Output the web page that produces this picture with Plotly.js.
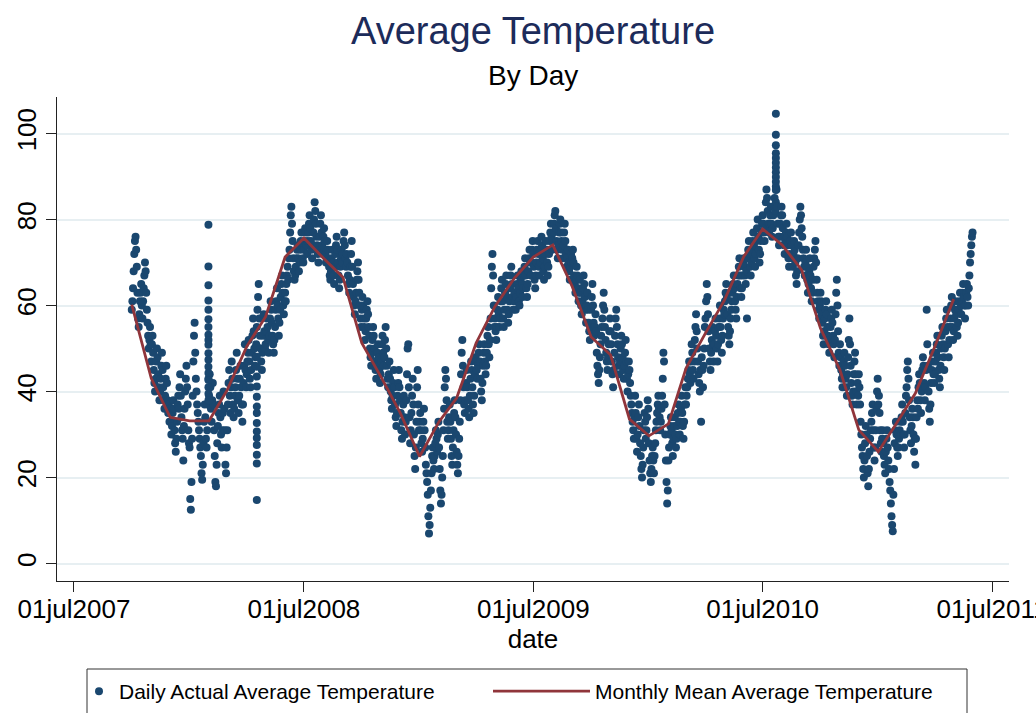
<!DOCTYPE html>
<html><head><meta charset="utf-8">
<script src="https://cdn.plot.ly/plotly-3.0.1.min.js"></script>
<style>html,body{margin:0;padding:0;background:#fff}#chart{width:1036px;height:713px}</style>
</head><body><div id="chart"></div>
<script>
// Daily actual average temperature, one value per day starting 2007-10-01
const dailyStartDate = '2007-10-01';
const temps2007 = [
  59,61,64,68,72,75,76,73,69,63,57,55,58,61,63,65,60,57,61,64,67,70,68,63,59,56,53,50,52,55,51,
  47,51,53,49,45,42,40,43,47,50,48,44,41,38,40,43,46,49,45,41,38,36,39,43,46,42,38,35,37,33,
  36,33,30,32,35,38,36,31,28,26,29,33,37,39,36,41,44,39,34,31,29,24,32,36,40,43,46,41,37,31,28
];
const temps2008 = [
  27,15,12.5,19,29,39,47,53,56,49,43,40,37,35,33,31,29,27,25,21,19.5,23,28,33,37,34,29,27,31,37,43,
  39,44,41,36,33,38,42,37,31,25,19,18,23,28,32,35,37,39,34,30,27,31,35,40,36,31,23,21,27,
  31,37,42,45,39,35,41,47,43,37,34,36,39,41,45,49,43,38,35,39,43,46,41,37,33,37,42,46,51,45,41,
  44,47,49,52,47,43,41,45,49,53,57,54,50,46,48,51,55,59,62,65,57,53,50,47,45,49,53,58,54,50,
  51,54,57,55,52,49,53,57,61,59,56,53,51,49,52,55,59,61,64,60,57,53,56,59,62,65,67,63,60,58,61,
  63,61,65,67,69,66,71,73,77,81,83,79,75,71,68,66,67,69,71,73,74,71,68,70,73,75,77,74,71,70,
  73,75,78,77,74,72,75,77,79,81,78,75,73,71,74,77,80,84,82,79,76,74,72,70,73,76,79,81,77,74,72,
  76,78,75,72,70,73,75,73,71,69,67,66,68,71,73,70,67,65,69,72,74,76,73,70,67,64,66,69,71,73,70,
  72,75,77,74,71,69,72,70,67,65,63,66,69,72,75,69,65,62,60,58,61,63,66,68,70,66,63,60,57,55,
  59,62,60,57,55,52,54,57,59,61,58,55,53,50,48,46,49,52,55,53,50,47,45,43,46,49,51,48,45,42,44,
  47,51,53,49,46,48,52,55,50,46,43,41,44,47,43,40,38,36,39,42,45,41,37,34,32,35,39,42,45,41,
  38,35,31,29,33,37,39,34,30,33,38,44,50,51,41,34,28,31,35,39,43,37,30,25,22,27,33,41,45,37,31
];
const temps2009 = [
  33,35,31,28,26,29,33,36,31,27,23,21,19,16,11,7,9,13,17,21,25,27,24,22,25,28,31,29,26,30,33,
  27,22,17,14,16,20,25,31,36,41,45,43,38,33,29,31,34,37,33,29,25,23,27,31,35,38,34,30,
  26,23,21,25,29,33,38,44,49,52,46,41,37,35,38,42,45,41,38,36,34,39,43,47,45,41,37,35,39,44,48,
  47,45,43,46,49,51,47,43,40,38,42,46,49,51,47,44,46,49,53,55,51,48,52,57,64,69,72,67,60,55,
  57,54,52,55,59,62,58,55,57,61,64,66,61,57,55,59,63,65,67,62,59,56,58,61,64,67,69,65,62,59,61,
  63,61,59,62,65,67,64,61,60,63,66,68,65,62,64,67,69,71,67,64,62,65,68,71,73,70,67,70,73,75,
  72,69,66,64,67,70,73,75,72,69,67,70,73,76,74,71,68,66,69,72,75,73,70,67,69,72,75,77,79,76,73,
  75,77,79,81,82,78,75,73,71,74,77,79,80,77,75,73,71,74,77,79,75,72,69,71,73,70,68,66,69,72,70,
  71,73,70,67,65,63,66,69,67,64,61,63,66,63,60,58,61,64,67,65,62,59,56,60,63,59,56,54,52,55,
  59,62,65,60,56,53,55,58,54,49,46,44,42,45,48,51,53,55,57,60,63,59,55,52,49,47,45,48,51,54,57,
  54,51,47,44,41,45,49,53,57,59,55,51,48,46,44,47,50,53,51,48,45,43,46,49,52,47,43,40,44,47,
  45,42,39,37,35,33,31,29,34,39,35,29,26,30,34,37,32,28,25,22,20,23,27,31,35,33,29,31,34,38,36
];
const temps2010 = [
  28,24,21,19,22,25,27,24,21,25,28,31,33,35,37,39,36,34,31,33,36,39,43,49,47,37,30,24,19,14,17,
  24,27,30,32,34,31,28,25,29,32,34,30,27,29,32,35,37,33,30,33,36,39,35,32,29,33,37,41,
  37,39,41,43,45,47,44,42,47,51,49,45,43,47,52,55,58,54,50,47,44,42,40,45,33,48,45,41,46,50,55,
  57,61,65,62,58,54,50,47,45,49,52,55,51,47,51,54,57,53,50,47,51,55,57,60,55,52,49,53,57,59,
  58,61,63,65,62,58,55,53,51,54,57,59,61,63,65,67,64,61,59,57,62,65,67,69,71,67,64,62,64,67,70,
  71,69,67,65,68,57,71,73,75,72,69,67,70,73,75,77,74,71,69,72,75,78,80,76,73,70,72,75,77,79,
  81,79,77,75,78,84,87,85,82,79,77,79,81,83,79,76,78,81,83,85,82,84,87,83,79,76,74,76,79,81,83,
  81,78,76,74,72,75,77,79,76,74,71,69,72,75,77,74,71,69,72,75,73,70,67,65,68,71,74,77,80,83,81,
  78,76,73,71,69,67,70,73,69,66,63,65,68,71,67,64,61,63,66,69,71,73,75,70,66,63,61,59,57,60,
  63,61,58,56,53,51,54,57,59,61,58,55,53,51,49,52,55,57,59,56,53,51,48,52,58,63,66,60,54,49,46,
  51,48,45,43,41,44,47,49,46,43,41,39,44,48,52,57,51,46,42,39,37,40,44,47,49,44,40,37,42,39,
  44,41,37,33,30,27,25,22,20,24,28,32,30,25,21,18,22,26,29,31,33,35,37,31,27,24,27,31,36,40,43
];
const temps2011 = [
  37,39,35,31,28,26,29,31,28,25,23,21,26,29,31,27,24,22,19,17,14,11,9,7.5,16,22,28,31,33,30,27,
  25,27,29,31,33,30,34,37,33,30,27,30,35,39,41,45,47,43,38,34,31,28,32,36,34,30,26,29,
  23,29,34,38,36,41,44,42,38,35,40,45,48,46,42,38,41,45,59,51,46,40,36,33,37,42,45,47,49,44,42,
  44,47,49,51,53,48,45,43,41,46,50,53,55,51,48,45,50,54,57,59,55,51,48,52,55,57,60,62,55,52,
  54,57,59,61,58,55,53,56,59,61,63,60,58,61,63,65,62,60,57,60,63,65,62,60,64,67,70,72,74,76,77
];

// Days with several recorded observations
const extraObsDates = [
  '2008-01-31','2008-01-31','2008-01-31','2008-01-31','2008-01-31','2008-01-31','2008-01-31','2008-01-31','2008-01-31',
  '2008-01-31','2008-01-31','2008-01-31','2008-01-31','2008-01-31','2008-01-31','2008-01-31','2008-01-31','2008-01-31',
  '2008-04-17','2008-04-17','2008-04-17','2008-04-17','2008-04-17','2008-04-17','2008-04-17','2008-04-17',
  '2008-04-17','2008-04-17','2008-04-17','2008-04-17','2008-04-17','2008-04-17','2008-04-17',
  '2010-07-22','2010-07-22','2010-07-22','2010-07-22','2010-07-22','2010-07-22','2010-07-22','2010-07-22',
  '2010-07-22','2010-07-22','2010-07-22','2010-07-22'
];
const extraObsTemps = [
  78.8,69.1,64.7,61.2,59.0,56.8,55.0,53.2,52.0,50.9,48.9,47.4,45.8,44.3,42.7,41.0,39.5,38.0,
  50.5,48.1,45.8,43.5,41.2,38.8,36.5,35.0,32.7,30.7,29.2,27.6,25.3,23.3,14.8,
  104.6,99.7,97.3,95.4,94.3,93.2,92.1,91.0,89.9,88.8,87.7,86.9
];

// Monthly mean average temperature (plotted on the first of each month)
const monthDates = [
  '2007-10-01','2007-11-01','2007-12-01',
  '2008-01-01','2008-02-01','2008-03-01','2008-04-01','2008-05-01','2008-06-01',
  '2008-07-01','2008-08-01','2008-09-01','2008-10-01','2008-11-01','2008-12-01',
  '2009-01-01','2009-02-01','2009-03-01','2009-04-01','2009-05-01','2009-06-01',
  '2009-07-01','2009-08-01','2009-09-01','2009-10-01','2009-11-01','2009-12-01',
  '2010-01-01','2010-02-01','2010-03-01','2010-04-01','2010-05-01','2010-06-01',
  '2010-07-01','2010-08-01','2010-09-01','2010-10-01','2010-11-01','2010-12-01',
  '2011-01-01','2011-02-01','2011-03-01','2011-04-01','2011-05-01'
];
const monthlyMean = [
  60.2,43.1,34.0,
  33.2,33.2,40.4,50.5,57.4,71.3,
  75.7,71.0,66.6,51.3,43.3,35.1,
  24.9,33.0,38.5,51.3,59.8,66.4,
  71.3,74.1,64.4,52.7,48.5,33.6,
  29.7,32.5,45.4,53.6,61.2,71.4,
  77.8,74.1,68.3,54.7,45.0,31.1,
  26.0,33.1,39.6,50.5,61.5
];

const xTickDates = ['2007-07-01','2008-07-01','2009-07-01','2010-07-01','2011-07-01'];
const xTickLabels = ['01jul2007','01jul2008','01jul2009','01jul2010','01jul2011'];
const yTickVals = [0,20,40,60,80,100];

function dayString(start, offset) {
  const d = new Date(start + 'T00:00:00Z');
  d.setUTCDate(d.getUTCDate() + offset);
  return d.toISOString().slice(0, 10);
}
const dailyTemps = [].concat(temps2007, temps2008, temps2009, temps2010, temps2011);
const dailyDates = dailyTemps.map((_, i) => dayString(dailyStartDate, i));

const FONT = 'Liberation Sans, Arial, Helvetica, sans-serif';

const traces = [
  {
    type: 'scatter', mode: 'markers',
    x: dailyDates.concat(extraObsDates),
    y: dailyTemps.concat(extraObsTemps),
    name: 'Daily Actual Average Temperature',
    marker: {color: '#1a476f', size: 8, line: {width: 0}},
    legend: 'legend', hoverinfo: 'skip'
  },
  {
    type: 'scatter', mode: 'lines',
    x: monthDates, y: monthlyMean,
    name: 'Monthly Mean Average Temperature',
    line: {color: '#90353b', width: 2.8},
    legend: 'legend2', hoverinfo: 'skip'
  }
];

const PX = 952, PY = 484, L = 57, T = 97;
function px2paperX(x) { return (x - L) / PX; }
function px2paperY(y) { return (T + PY - y) / PY; }

const layout = {
  width: 1036, height: 713,
  margin: {l: 57, r: 27, t: 97, b: 132, autoexpand: false},
  paper_bgcolor: '#ffffff', plot_bgcolor: '#ffffff',
  font: {family: FONT, color: '#000000', size: 21},
  title: {
    text: 'Average Temperature',
    font: {family: FONT, size: 38, color: '#1c2b5a'},
    x: 0.5, xref: 'paper', xanchor: 'center',
    y: 1 - 17/713, yref: 'container', yanchor: 'top'
  },
  annotations: [{
    text: 'By Day', showarrow: false,
    xref: 'paper', yref: 'paper', x: 0.5, xanchor: 'center',
    y: px2paperY(76), yanchor: 'middle',
    font: {family: FONT, size: 28, color: '#000000'}
  }],
  xaxis: {
    type: 'date',
    range: ['2007-06-04', '2011-07-28'],
    tickmode: 'array', tickvals: xTickDates, ticktext: xTickLabels,
    ticks: 'outside', ticklen: 10, tickwidth: 1, tickcolor: '#222222',
    ticklabeloverflow: 'allow', ticklabelstandoff: -5,
    showline: true, linecolor: '#222222', linewidth: 1,
    showgrid: false, zeroline: false,
    tickfont: {family: FONT, size: 26, color: '#000000'},
    title: {text: 'date', font: {family: FONT, size: 26, color: '#000000'}, standoff: 0}
  },
  yaxis: {
    range: [-4.05, 108.5],
    tickmode: 'array', tickvals: yTickVals,
    ticks: 'outside', ticklen: 10, tickwidth: 1, tickcolor: '#222222',
    tickangle: -90,
    showline: true, linecolor: '#222222', linewidth: 1,
    showgrid: true, gridcolor: '#e7eff2', gridwidth: 2,
    zeroline: false,
    tickfont: {family: FONT, size: 26, color: '#000000'}
  },
  showlegend: true,
  legend: {
    orientation: 'h', xref: 'paper', yref: 'paper',
    x: px2paperX(79), y: px2paperY(671), xanchor: 'left', yanchor: 'top',
    itemwidth: 30, bgcolor: 'rgba(0,0,0,0)', borderwidth: 0,
    font: {family: FONT, size: 21, color: '#000000'}
  },
  legend2: {
    orientation: 'h', xref: 'paper', yref: 'paper',
    x: px2paperX(488), y: px2paperY(671), xanchor: 'left', yanchor: 'top',
    itemwidth: 97, bgcolor: 'rgba(0,0,0,0)', borderwidth: 0,
    font: {family: FONT, size: 21, color: '#000000'}
  },
  shapes: [{
    type: 'rect', xref: 'paper', yref: 'paper',
    x0: px2paperX(87), x1: px2paperX(967), y0: px2paperY(669), y1: px2paperY(760),
    line: {color: '#333333', width: 1}, fillcolor: 'rgba(0,0,0,0)'
  }]
};

Plotly.newPlot('chart', traces, layout, {displayModeBar: false, staticPlot: true});
</script>
</body></html>
